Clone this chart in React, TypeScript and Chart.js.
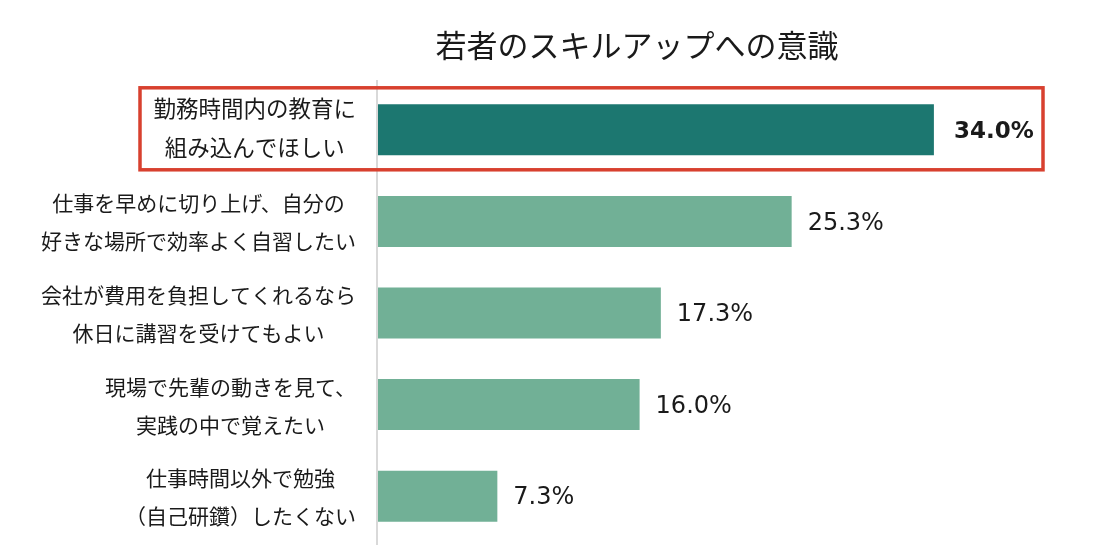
import React, { useEffect, useRef } from "react";
import { Chart, registerables } from "chart.js";

Chart.register(...registerables);

const TITLE = "若者のスキルアップへの意識";

const categories: string[][] = [
  ["勤務時間内の教育に", "組み込んでほしい"],
  ["仕事を早めに切り上げ、自分の", "好きな場所で効率よく自習したい"],
  ["会社が費用を負担してくれるなら", "休日に講習を受けてもよい"],
  ["現場で先輩の動きを見て、", "実践の中で覚えたい"],
  ["仕事時間以外で勉強", "（自己研鑽）したくない"],
];

const values: number[] = [34.0, 25.3, 17.3, 16.0, 7.3];

const barColors: string[] = ["#1c7770", "#71b096", "#71b096", "#71b096", "#71b096"];

const JP_FONT = '"Noto Sans CJK JP", "Noto Sans", sans-serif';
const NUM_FONT = '"DejaVu Sans", Verdana, sans-serif';
const TEXT_COLOR = "#1a1a1a";

// Category labels, value labels, the vertical axis line, the title and the highlight frame
const decorPlugin = {
  id: "decor",
  beforeDatasetsDraw(chart: any) {
    const { ctx, chartArea } = chart;
    ctx.save();
    ctx.strokeStyle = "#d9d9d9";
    ctx.lineWidth = 2;
    ctx.beginPath();
    ctx.moveTo(chartArea.left - 1, chartArea.top - 4);
    ctx.lineTo(chartArea.left - 1, chartArea.bottom + 3);
    ctx.stroke();
    ctx.restore();
  },
  afterDatasetsDraw(chart: any) {
    const { ctx, chartArea, scales } = chart;
    const yScale = scales.y;
    const meta = chart.getDatasetMeta(0);
    ctx.save();

    // title
    ctx.fillStyle = TEXT_COLOR;
    ctx.font = `31px ${JP_FONT}`;
    ctx.textAlign = "center";
    ctx.textBaseline = "middle";
    ctx.fillText(TITLE, 637, 45);

    // category labels: lines centered on each other, block right-aligned
    const labelRight = chartArea.left - 22;
    categories.forEach((lines, i) => {
      const cy = yScale.getPixelForValue(i);
      const first = i === 0;
      const size = first ? 22.5 : 21;
      ctx.font = `${size}px ${JP_FONT}`;
      const maxW = Math.max(...lines.map((l) => ctx.measureText(l).width));
      const cx = labelRight - maxW / 2;
      ctx.textAlign = "center";
      ctx.textBaseline = "middle";
      ctx.fillStyle = TEXT_COLOR;
      ctx.fillText(lines[0], cx, cy + (first ? -21 : -18));
      ctx.fillText(lines[1], cx, cy + (first ? 18 : 20));
    });

    // value labels
    meta.data.forEach((bar: any, i: number) => {
      const bold = i === 0;
      ctx.font = `${bold ? "bold 23px" : "24px"} ${NUM_FONT}`;
      ctx.textAlign = "left";
      ctx.textBaseline = "middle";
      ctx.fillStyle = TEXT_COLOR;
      ctx.fillText(values[i].toFixed(1) + "%", bar.x + (bold ? 20 : 16), bar.y + 2);
    });

    // highlight frame around the first item
    const c0 = yScale.getPixelForValue(0);
    ctx.strokeStyle = "#d8402f";
    ctx.lineWidth = 3.5;
    ctx.strokeRect(140, c0 - 42, 1043 - 140, 82);

    ctx.restore();
  },
};

export default function App() {
  const canvasRef = useRef<HTMLCanvasElement | null>(null);

  useEffect(() => {
    document.body.style.margin = "0";
    const canvas = canvasRef.current;
    if (!canvas) return;
    const chart = new Chart(canvas, {
      type: "bar",
      data: {
        labels: categories.map((l) => l.join("")),
        datasets: [
          {
            data: values,
            backgroundColor: barColors,
            borderWidth: 0,
            categoryPercentage: 1,
            barPercentage: 0.557,
          },
        ],
      },
      options: {
        indexAxis: "y",
        responsive: false,
        animation: false,
        layout: { padding: { top: 84, bottom: 17, left: 378, right: 69 } },
        scales: {
          x: { display: false, min: 0, max: 40 },
          y: { display: false },
        },
        plugins: {
          legend: { display: false },
          title: { display: false },
          tooltip: { enabled: false },
        },
      },
      plugins: [decorPlugin],
    });
    return () => chart.destroy();
  }, []);

  return (
    <div style={{ width: 1101, height: 559, background: "#ffffff" }}>
      <canvas ref={canvasRef} width={1101} height={559} />
    </div>
  );
}
